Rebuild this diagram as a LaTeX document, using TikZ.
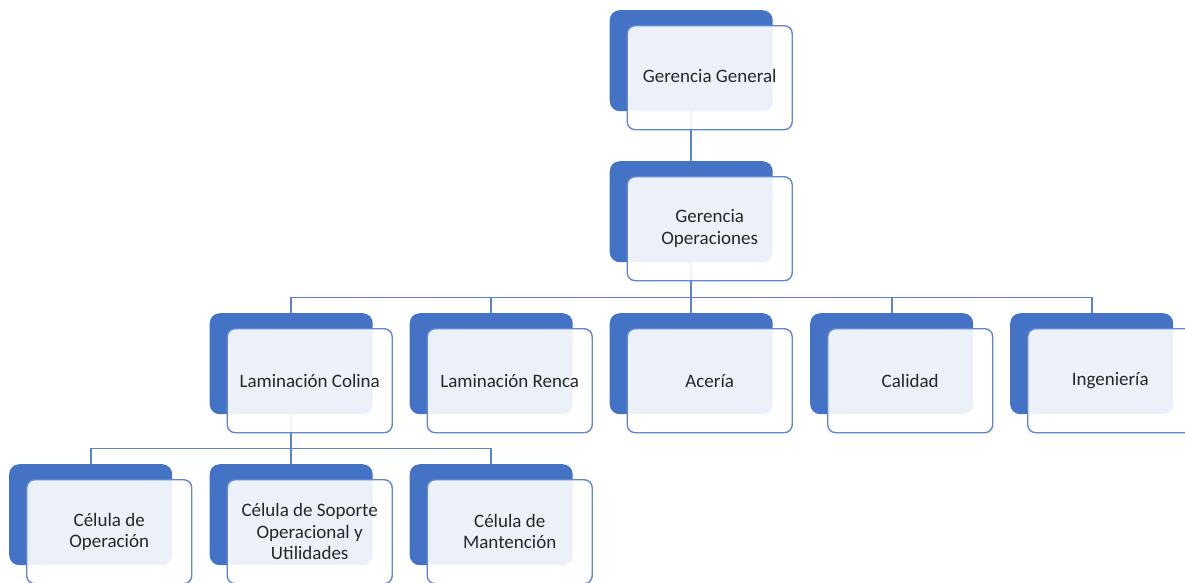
\documentclass[tikz,border=0pt]{standalone}
\usepackage{fontspec}
\setmainfont{Carlito}
\usetikzlibrary{backgrounds}
\definecolor{backblue}{HTML}{4472C4}
\definecolor{edgeblue}{HTML}{5F87D2}
\definecolor{linkblue}{HTML}{5B84D0}
\definecolor{ink}{HTML}{262626}
% one chart entry: solid back card plus translucent front card carrying the label
\newcommand\orgbox[4]{%
  \node[backbox] (#1-b) at (#2,#3) {};
  \node[frontbox] (#1) at (#2+17,#3+15) {#4};
}
\begin{document}
\begin{tikzpicture}[x=1pt,y=-1pt,
  backbox/.style={draw=none, fill=backblue, rounded corners=10pt,
    minimum width=163pt, minimum height=101pt, anchor=north west, inner sep=0pt},
  frontbox/.style={draw=edgeblue, line width=1.4pt, fill=white, fill opacity=0.9,
    draw opacity=1, text opacity=1, rounded corners=8pt,
    minimum width=165pt, minimum height=104pt, anchor=north west,
    align=center, text=ink, font=\fontsize{19}{21.5}\selectfont, inner sep=0pt},
  link/.style={draw=linkblue, line width=1.6pt}]
\useasboundingbox (0,0) rectangle (1185,582);

% top levels
\orgbox{gg}{609.5}{10}{\raisebox{3pt}{Gerencia General}}
\orgbox{go}{609.5}{161}{Gerencia\\Operaciones}

% departments
\orgbox{lc}{209.5}{313}{Laminación Colina}
\orgbox{lr}{409.5}{313}{Laminación Renca}
\orgbox{ac}{609.5}{313}{Acería}
\orgbox{ca}{810}{313}{Calidad}
\orgbox{in}{1010}{313}{Ingeniería}

% cells under Laminación Colina
\orgbox{co}{9}{464}{Célula de\\Operación}
\orgbox{cs}{209.5}{464}{Célula de Soporte\\Operacional y\\Utilidades}
\orgbox{cm}{409.5}{464}{Célula de\\Mantención}

% connectors behind the cards
\begin{scope}[on background layer]
  \draw[link] (gg-b.south) -- (go-b.north);
  \foreach \c in {lc,lr,ac,ca,in}
    \draw[link] (go-b.south) -- ++(0,35) -| (\c-b.north);
  \foreach \c in {co,cs,cm}
    \draw[link] (lc-b.south) -- ++(0,34) -| (\c-b.north);
\end{scope}
\end{tikzpicture}
\end{document}
